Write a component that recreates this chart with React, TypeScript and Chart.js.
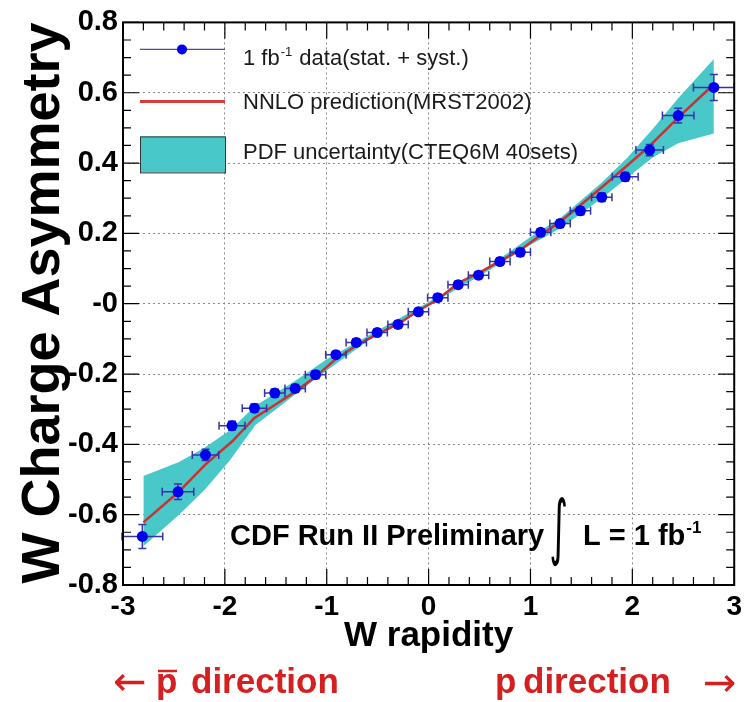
import React, { useEffect, useRef } from "react";
import { Chart, registerables } from "chart.js";

Chart.register(...registerables);

// ---------- data ----------
const dataX = [-2.81, -2.46, -2.19, -1.93, -1.71, -1.51, -1.31, -1.11, -0.91, -0.71, -0.505, -0.3, -0.1, 0.09, 0.29, 0.49, 0.7, 0.9, 1.1, 1.29, 1.49, 1.7, 1.93, 2.17, 2.45, 2.8];
const dataY = [-0.662, -0.535, -0.43, -0.347, -0.297, -0.254, -0.241, -0.202, -0.145, -0.11, -0.082, -0.059, -0.023, 0.017, 0.054, 0.081, 0.12, 0.146, 0.203, 0.228, 0.264, 0.303, 0.361, 0.437, 0.535, 0.615];
const xErr = [0.2, 0.155, 0.13, 0.127, 0.12, 0.1, 0.1, 0.1, 0.1, 0.1, 0.1, 0.1, 0.1, 0.1, 0.1, 0.1, 0.1, 0.1, 0.1, 0.1, 0.1, 0.1, 0.127, 0.135, 0.155, 0.2];
const yErr = [0.034, 0.022, 0.016, 0.013, 0.012, 0.011, 0.011, 0.011, 0.01, 0.01, 0.01, 0.01, 0.01, 0.01, 0.01, 0.01, 0.01, 0.01, 0.01, 0.011, 0.011, 0.012, 0.012, 0.016, 0.021, 0.037];

const predX = [-2.8, -2.46, -2.19, -1.93, -1.71, -1.51, -1.31, -1.11, -0.91, -0.71, -0.5, -0.3, -0.1, 0.09, 0.29, 0.49, 0.7, 0.9, 1.1, 1.29, 1.49, 1.7, 1.93, 2.17, 2.45, 2.8];
const predY = [-0.622, -0.537, -0.457, -0.392, -0.325, -0.288, -0.25, -0.208, -0.157, -0.119, -0.086, -0.058, -0.02, 0.012, 0.059, 0.087, 0.121, 0.153, 0.195, 0.233, 0.28, 0.331, 0.388, 0.449, 0.529, 0.624];

const bandX = [-2.8, -2.45, -2.2, -1.95, -1.7, -1.3, -1.0, -0.6, 0, 0.6, 1.0, 1.3, 1.7, 1.95, 2.2, 2.45, 2.8];
const bandHi = [-0.49, -0.45, -0.41, -0.36, -0.29, -0.218, -0.158, -0.092, 0.005, 0.108, 0.19, 0.245, 0.345, 0.415, 0.497, 0.584, 0.696];
const bandLo = [-0.69, -0.6, -0.53, -0.445, -0.345, -0.256, -0.19, -0.106, -0.005, 0.096, 0.168, 0.215, 0.3, 0.358, 0.416, 0.456, 0.484];

const xTickLabels = ["-3", "-2", "-1", "0", "1", "2", "3"];
const yTickLabels = ["-0.8", "-0.6", "-0.4", "-0.2", "-0", "0.2", "0.4", "0.6", "0.8"];

const legendLabels = ["data(stat. + syst.)", "NNLO prediction(MRST2002)", "PDF uncertainty(CTEQ6M 40sets)"];

const FONT = "'Liberation Sans', Arial, Helvetica, sans-serif";
const BAND_COLOR = "#48c8c8";
const LINE_COLOR = "#c83232";
const POINT_COLOR = "#0000ee";
const ERR_COLOR = "#3434a8";
const RED_TEXT = "#d42020";

// ---------- plugins ----------
const errorBarPlugin = {
  id: "errorBars",
  beforeDatasetDraw(chart: any, args: any) {
    if (args.index !== 0) return;
    const { ctx } = chart;
    const xs = chart.scales.x;
    const ys = chart.scales.y;
    ctx.save();
    ctx.strokeStyle = ERR_COLOR;
    ctx.lineWidth = 1.5;
    const cap = 4;
    dataX.forEach((xv, i) => {
      const yv = dataY[i];
      const px = xs.getPixelForValue(xv);
      const py = ys.getPixelForValue(yv);
      const x0 = xs.getPixelForValue(xv - xErr[i]);
      const x1 = xs.getPixelForValue(xv + xErr[i]);
      const y0 = ys.getPixelForValue(yv - yErr[i]);
      const y1 = ys.getPixelForValue(yv + yErr[i]);
      ctx.beginPath();
      ctx.moveTo(x0, py);
      ctx.lineTo(x1, py);
      ctx.moveTo(px, y0);
      ctx.lineTo(px, y1);
      ctx.moveTo(x0, py - cap);
      ctx.lineTo(x0, py + cap);
      ctx.moveTo(x1, py - cap);
      ctx.lineTo(x1, py + cap);
      ctx.moveTo(px - cap, y0);
      ctx.lineTo(px + cap, y0);
      ctx.moveTo(px - cap, y1);
      ctx.lineTo(px + cap, y1);
      ctx.stroke();
    });
    ctx.restore();
  },
};

const framePlugin = {
  id: "frameTicks",
  afterDraw(chart: any) {
    const { ctx, chartArea } = chart;
    const { left, right, top, bottom } = chartArea;
    const xs = chart.scales.x;
    const ys = chart.scales.y;
    ctx.save();
    ctx.strokeStyle = "#000";
    ctx.lineWidth = 2;
    ctx.strokeRect(left, top, right - left, bottom - top);
    ctx.lineWidth = 1.2;
    ctx.beginPath();
    for (let k = -15; k <= 15; k++) {
      const v = k * 0.2;
      const len = k % 5 === 0 ? 16 : 8;
      const px = xs.getPixelForValue(v);
      ctx.moveTo(px, bottom);
      ctx.lineTo(px, bottom - len);
      ctx.moveTo(px, top);
      ctx.lineTo(px, top + len);
    }
    for (let k = -16; k <= 16; k++) {
      const v = k * 0.05;
      const len = k % 4 === 0 ? 16 : 8;
      const py = ys.getPixelForValue(v);
      ctx.moveTo(left, py);
      ctx.lineTo(left + len, py);
      ctx.moveTo(right, py);
      ctx.lineTo(right - len, py);
    }
    ctx.stroke();
    ctx.restore();
  },
};

const legendPlugin = {
  id: "rootLegend",
  afterDatasetsDraw(chart: any) {
    const { ctx, chartArea } = chart;
    const L = chartArea.left;
    const T = chartArea.top;
    ctx.save();
    // entry 1: data
    ctx.strokeStyle = "#4848a0";
    ctx.lineWidth = 1.3;
    ctx.beginPath();
    ctx.moveTo(L + 17, T + 27);
    ctx.lineTo(L + 102, T + 27);
    ctx.stroke();
    ctx.fillStyle = POINT_COLOR;
    ctx.beginPath();
    ctx.arc(L + 59, T + 27, 5, 0, Math.PI * 2);
    ctx.fill();
    // entry 2: line
    ctx.strokeStyle = "#d83c3c";
    ctx.lineWidth = 3;
    ctx.beginPath();
    ctx.moveTo(L + 17, T + 79);
    ctx.lineTo(L + 102, T + 79);
    ctx.stroke();
    // entry 3: box
    ctx.fillStyle = BAND_COLOR;
    ctx.fillRect(L + 17, T + 114, 85, 36);
    ctx.strokeStyle = "#333";
    ctx.lineWidth = 1;
    ctx.strokeRect(L + 17.5, T + 114.5, 85, 36);

    ctx.fillStyle = "#1a1a1a";
    ctx.textBaseline = "alphabetic";
    ctx.textAlign = "left";
    ctx.font = `22px ${FONT}`;
    let x = L + 120;
    const y1 = T + 43;
    ctx.fillText("1 fb", x, y1);
    x += ctx.measureText("1 fb").width;
    ctx.font = `13px ${FONT}`;
    ctx.fillText("-1", x + 1, y1 - 9);
    x += ctx.measureText("-1").width + 2;
    ctx.font = `22px ${FONT}`;
    ctx.fillText(" " + legendLabels[0], x, y1);
    ctx.fillText(legendLabels[1], L + 120, T + 87);
    ctx.fillText(legendLabels[2], L + 120, T + 137);
    ctx.restore();
  },
};

const annotationPlugin = {
  id: "annotations",
  afterDraw(chart: any) {
    const { ctx } = chart;
    ctx.save();
    ctx.fillStyle = "#000";
    ctx.textAlign = "left";
    ctx.textBaseline = "alphabetic";
    ctx.font = `bold 29px ${FONT}`;
    ctx.fillText("CDF Run II Preliminary", 230, 545);
    // integral sign, fitted to 497..567 vertically, ~14px wide
    ctx.font = `100px 'DejaVu Sans', sans-serif`;
    const m = ctx.measureText("\u222B");
    const inkH = m.actualBoundingBoxAscent + m.actualBoundingBoxDescent;
    const inkW = m.actualBoundingBoxLeft + m.actualBoundingBoxRight;
    const s = 70 / inkH;
    const sx = 15 / (inkW * s);
    ctx.save();
    ctx.translate(551, 497 + m.actualBoundingBoxAscent * s);
    ctx.scale(sx * s, s);
    ctx.fillText("\u222B", m.actualBoundingBoxLeft, 0);
    ctx.restore();
    ctx.font = `bold 29px ${FONT}`;
    ctx.fillText("L = 1 fb", 583, 545);
    const w = ctx.measureText("L = 1 fb").width;
    ctx.font = `bold 17px ${FONT}`;
    ctx.fillText("-1", 583 + w + 1, 533);

    // bottom direction labels
    ctx.fillStyle = RED_TEXT;
    ctx.font = `40px 'DejaVu Sans', sans-serif`;
    ctx.textBaseline = "middle";
    ctx.fillText("\u2190", 113, 685);
    ctx.fillText("\u2192", 703, 686);
    ctx.textBaseline = "alphabetic";
    ctx.font = `bold 35px ${FONT}`;
    ctx.fillText("p", 156, 693);
    ctx.fillText("direction", 191, 693);
    ctx.fillText("p", 495, 693);
    ctx.fillText("direction", 523, 693);
    ctx.strokeStyle = RED_TEXT;
    ctx.lineWidth = 2.5;
    ctx.beginPath();
    ctx.moveTo(158, 671);
    ctx.lineTo(177, 671);
    ctx.stroke();
    ctx.restore();
  },
};

export default function App() {
  const ref = useRef<HTMLCanvasElement>(null);

  useEffect(() => {
    const canvas = ref.current;
    if (!canvas) return;
    const chart = new Chart(canvas, {
      type: "scatter",
      data: {
        datasets: [
          {
            type: "scatter",
            label: "1 fb-1 " + legendLabels[0],
            data: dataX.map((x, i) => ({ x, y: dataY[i] })),
            pointRadius: 5.5,
            pointBackgroundColor: POINT_COLOR,
            pointBorderColor: POINT_COLOR,
            pointBorderWidth: 0,
          } as any,
          {
            type: "line",
            label: legendLabels[1],
            data: predX.map((x, i) => ({ x, y: predY[i] })),
            borderColor: LINE_COLOR,
            borderWidth: 2.5,
            pointRadius: 0,
            fill: false,
            tension: 0,
          } as any,
          {
            type: "line",
            label: "band upper",
            data: bandX.map((x, i) => ({ x, y: bandHi[i] })),
            borderWidth: 0,
            pointRadius: 0,
            fill: false,
          } as any,
          {
            type: "line",
            label: legendLabels[2],
            data: bandX.map((x, i) => ({ x, y: bandLo[i] })),
            borderWidth: 0,
            pointRadius: 0,
            fill: "-1",
            backgroundColor: BAND_COLOR,
          } as any,
        ],
      },
      options: {
        animation: false,
        responsive: false,
        events: [],
        layout: { padding: { left: 0, right: 10, top: 18, bottom: 42 } },
        plugins: {
          legend: { display: false },
          tooltip: { enabled: false },
        },
        scales: {
          x: {
            type: "linear",
            min: -3,
            max: 3,
            ticks: {
              stepSize: 1,
              autoSkip: false,
              maxRotation: 0,
              padding: 5,
              color: "#000",
              font: { family: FONT, weight: "bold", size: 28 },
              callback: (v: any) => xTickLabels[Math.round(Number(v) + 3)],
            },
            grid: { color: "#888", lineWidth: 1, drawTicks: false },
            border: { display: false, dash: [2, 3] },
            title: {
              display: true,
              text: "W rapidity",
              color: "#000",
              font: { family: FONT, weight: "bold", size: 35 },
              padding: { top: 0, bottom: 3 },
            },
            afterFit: (s: any) => {
              s.height = 75;
            },
          },
          y: {
            type: "linear",
            min: -0.8,
            max: 0.8,
            ticks: {
              stepSize: 0.2,
              autoSkip: false,
              padding: 5,
              color: "#000",
              font: { family: FONT, weight: "bold", size: 29 },
              callback: (v: any) => yTickLabels[Math.round((Number(v) + 0.8) / 0.2)],
            },
            grid: { color: "#888", lineWidth: 1, drawTicks: false },
            border: { display: false, dash: [2, 3] },
            title: {
              display: true,
              text: "W Charge Asymmetry",
              align: "end",
              color: "#000",
              font: { family: FONT, weight: "bold", size: 54 },
              padding: { top: 12, bottom: 0 },
            },
            afterFit: (s: any) => {
              s.width = 123;
            },
          },
        },
      } as any,
      plugins: [errorBarPlugin, legendPlugin, annotationPlugin, framePlugin],
    });
    return () => chart.destroy();
  }, []);

  return (
    <div style={{ position: "fixed", left: 0, top: 0, width: 747, height: 702, background: "#fff" }}>
      <canvas ref={ref} width={747} height={702} style={{ display: "block", width: 747, height: 702 }} />
    </div>
  );
}
